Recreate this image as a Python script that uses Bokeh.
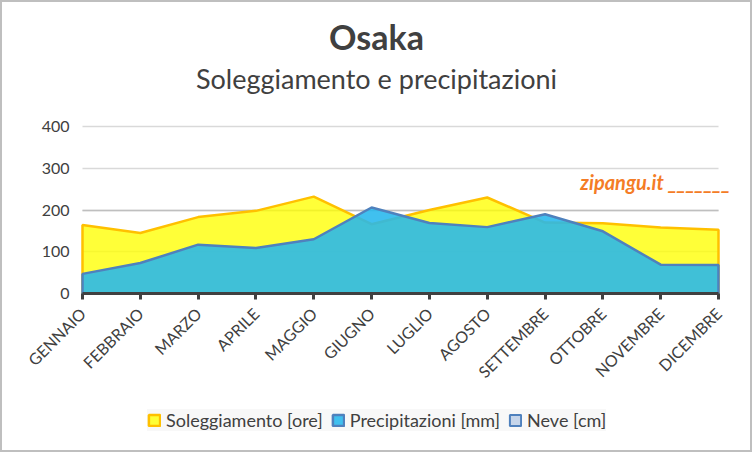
from bokeh.plotting import figure
from bokeh.models import Range1d, FixedTicker, Label, Legend, LegendItem, Grid
from bokeh.embed import file_html
from bokeh.resources import INLINE

months = ["GENNAIO", "FEBBRAIO", "MARZO", "APRILE", "MAGGIO", "GIUGNO",
          "LUGLIO", "AGOSTO", "SETTEMBRE", "OTTOBRE", "NOVEMBRE", "DICEMBRE"]
sunshine = [164, 145, 183, 198, 232, 166, 200, 230, 170, 168, 158, 153]
rain = [47, 73, 117, 109, 130, 206, 169, 159, 190, 149, 69, 68]
snow = [0, 0, 0, 0, 0, 0, 0, 0, 0, 0, 0, 0]
y_ticks = [0, 100, 200, 300, 400]

FONT = "Lato"
TXT = "#404040"
last = len(months) - 1

# the frame covers the whole canvas; the value band 0..400 sits in the middle
p = figure(width=752, height=452, output_backend="svg", toolbar_location=None,
           x_range=Range1d(-1.3836, 11.6226), y_range=Range1d(-385.6, 697.0),
           min_border_left=0, min_border_right=0, min_border_top=0,
           min_border_bottom=0, background_fill_color="white",
           border_fill_color="white", outline_line_color=None)
p.styles = {"border": "2px solid #BFBFBF", "box-sizing": "border-box",
            "overflow": "hidden"}

xs = list(range(len(months)))

# grid lines limited to the category span
if "cross_bounds" in Grid.properties():
    p.ygrid.cross_bounds = (0, last)
    p.ygrid.ticker = FixedTicker(ticks=y_ticks)
    p.ygrid.grid_line_color = "#D9D9D9"
    p.ygrid.grid_line_width = 1.5
    p.add_layout(Grid(dimension=1, ticker=FixedTicker(ticks=[200]),
                      cross_bounds=(0, last), grid_line_color="#BFBFBF",
                      grid_line_width=1.5))
else:
    p.ygrid.grid_line_color = None
    p.segment(x0=[0] * len(y_ticks), x1=[last] * len(y_ticks), y0=y_ticks,
              y1=y_ticks, line_color=["#BFBFBF" if t == 200 else "#D9D9D9"
                                      for t in y_ticks], line_width=1.5)
p.xgrid.grid_line_color = None

def poly(vals):
    return xs + xs[::-1], list(vals) + [0] * len(vals)

px, py = poly(sunshine)
r_sun = p.patch(px, py, fill_color="#FFFF00", fill_alpha=0.78,
                line_color="#FFC000", line_width=2.5)
px, py = poly(rain)
r_rain = p.patch(px, py, fill_color="#26B7ED", fill_alpha=0.88,
                 line_color="#4F81BD", line_width=2.5)
px, py = poly(snow)
r_snow = p.patch(px, py, fill_color="#C6D5EA", fill_alpha=1,
                 line_color="#4F81BD", line_width=2)

# axes (drawn inside the frame)
p.xaxis.fixed_location = 0
p.xaxis.bounds = (0, last)
p.xaxis.ticker = FixedTicker(ticks=xs)
p.xaxis.major_label_overrides = {i: m for i, m in enumerate(months)}
p.xaxis.major_label_orientation = 0.785398
p.xaxis.axis_line_color = TXT
p.xaxis.axis_line_width = 3
p.xaxis.major_tick_line_color = TXT
p.xaxis.major_tick_line_width = 3
p.xaxis.major_tick_out = 6
p.xaxis.major_tick_in = 0
p.xaxis.minor_tick_line_color = None
p.xaxis.major_label_text_font = FONT
p.xaxis.major_label_text_font_size = "16px"
p.xaxis.major_label_text_color = TXT
p.xaxis.major_label_standoff = 11

p.yaxis.fixed_location = 0
p.yaxis.ticker = FixedTicker(ticks=y_ticks)
p.yaxis.axis_line_color = None
p.yaxis.major_tick_line_color = None
p.yaxis.major_tick_out = 0
p.yaxis.major_tick_in = 0
p.yaxis.minor_tick_line_color = None
p.yaxis.major_label_text_font = FONT
p.yaxis.major_label_text_font_size = "16px"
p.yaxis.major_label_text_color = TXT
p.yaxis.major_label_standoff = 13

# titles
p.add_layout(Label(x=5.085, y=615, text="Osaka", text_align="center",
                   text_baseline="alphabetic", text_font=FONT,
                   text_font_style="bold", text_font_size="34px",
                   text_color=TXT))
p.add_layout(Label(x=5.085, y=516, text="Soleggiamento e precipitazioni",
                   text_align="center", text_baseline="alphabetic",
                   text_font=FONT, text_font_size="27px", text_color=TXT))
p.add_layout(Label(x=8.61, y=266, text="zipangu.it _______",
                   text_align="left", text_baseline="alphabetic",
                   text_font=FONT, text_font_style="bold italic",
                   text_font_size="20px", text_color="#F47C26"))

legend = Legend(items=[
    LegendItem(label="Soleggiamento [ore]", renderers=[r_sun]),
    LegendItem(label="Precipitazioni [mm]", renderers=[r_rain]),
    LegendItem(label="Neve [cm]", renderers=[r_snow]),
], orientation="horizontal", location=(145, 23))
legend.background_fill_color = "#F8F8F8"
legend.background_fill_alpha = 1
legend.border_line_color = None
legend.label_text_font = FONT
legend.label_text_font_size = "18px"
legend.label_text_color = TXT
legend.glyph_width = 14
legend.glyph_height = 14
legend.label_height = 20
legend.spacing = 8
legend.padding = 10
legend.margin = 0
legend.label_standoff = 5
p.add_layout(legend, "center")

open("out.html", "w").write(file_html(p, INLINE))
